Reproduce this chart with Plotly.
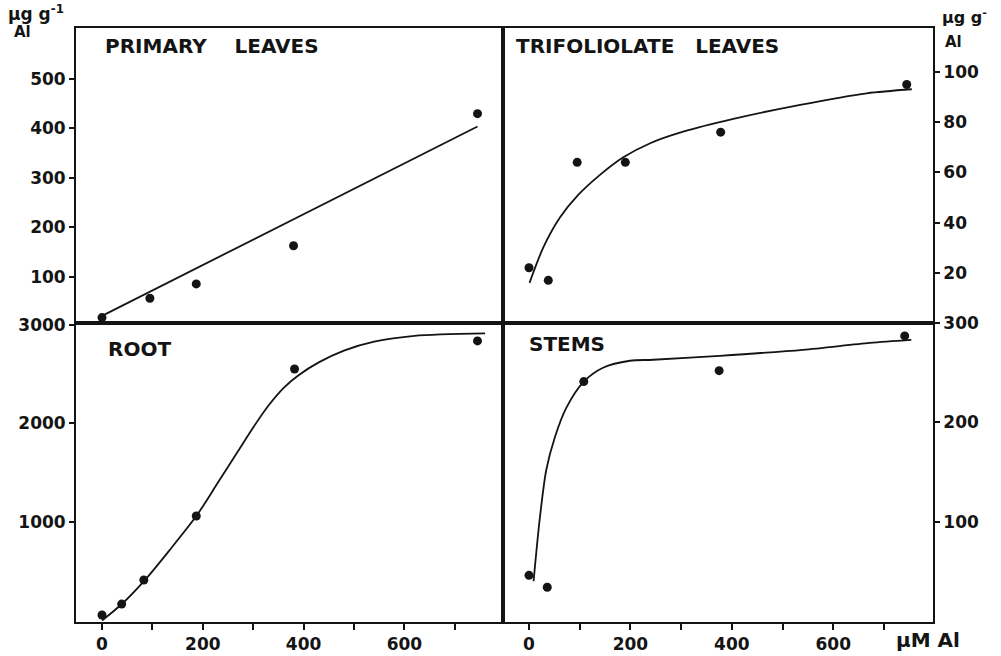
import plotly.graph_objects as go

# ---------------- data ----------------
dose_primary = [0, 95, 187, 380, 745]
al_primary = [18, 57, 86, 163, 430]
fit_primary_x = [3, 745]
fit_primary_y = [23, 404]

dose_trifol = [0, 38, 95, 190, 378, 745]
al_trifol = [22, 17, 64, 64, 76, 95]
fit_trifol_x = [1, 28, 61, 97, 140, 186, 239, 304, 403, 535, 666, 755]
fit_trifol_y = [16, 30, 42, 51, 59, 66, 71.6, 76.2, 81.3, 86.9, 91.5, 93.1]

dose_root = [0, 39, 83, 187, 382, 745]
al_root = [56, 167, 411, 1061, 2553, 2838]
fit_root_x = [0, 40, 85, 135, 187, 230, 270, 300, 330, 360, 390, 430, 480, 540, 620, 760]
fit_root_y = [0, 170, 410, 720, 1060, 1400, 1720, 1960, 2180, 2360, 2490, 2620, 2740, 2830, 2890, 2915]

dose_stems = [0, 36, 108, 375, 741]
al_stems = [46, 34, 241, 252, 287]
fit_stems_x = [9, 21, 34, 51, 74, 108, 146, 199, 245, 376, 540, 672, 754]
fit_stems_y = [40, 102, 152, 185, 215, 241, 255, 262, 263, 267, 273, 280, 283]

x_tickvals = [0, 100, 200, 300, 400, 500, 600, 700]
x_ticktext = ["0", "", "200", "", "400", "", "600", ""]
primary_ticks = [100, 200, 300, 400, 500]
trifol_ticks = [20, 40, 60, 80, 100]
root_ticks = [1000, 2000, 3000]
stems_ticks = [100, 200, 300]

NB = "\u00a0"
panel_titles = ["PRIMARY" + NB * 4 + "LEAVES", "TRIFOLIOLATE" + NB * 3 + "LEAVES", "ROOT", "STEMS"]

# ---------------- figure ----------------
W, H = 1001, 656
L, R, T, B = 76, 68, 28, 34
PW, PH = W - L - R, H - T - B
xs = (503 - L) / PW
ys = (622 - 323) / PH

INK = "#141414"
FONT = "DejaVu Sans"

fig = go.Figure()

def add_panel(xa, ya, xd, yd, fx, fy):
    fig.add_trace(go.Scatter(x=fx, y=fy, xaxis=xa, yaxis=ya, mode="lines",
                             line=dict(color=INK, width=1.8, shape="spline", smoothing=0.8),
                             showlegend=False, hoverinfo="skip"))
    fig.add_trace(go.Scatter(x=xd, y=yd, xaxis=xa, yaxis=ya, mode="markers",
                             marker=dict(color=INK, size=9),
                             showlegend=False))

add_panel("x", "y", dose_primary, al_primary, fit_primary_x, fit_primary_y)
add_panel("x2", "y2", dose_trifol, al_trifol, fit_trifol_x, fit_trifol_y)
add_panel("x3", "y3", dose_root, al_root, fit_root_x, fit_root_y)
add_panel("x4", "y4", dose_stems, al_stems, fit_stems_x, fit_stems_y)

def tf(size):
    return dict(family=FONT, size=size, color=INK, weight="bold")

common = dict(showline=True, linecolor=INK, linewidth=1.8, mirror=True, automargin=False,
              showgrid=False, zeroline=False, tickcolor=INK)

fig.update_layout(
    width=W, height=H,
    margin=dict(l=L, r=R, t=T, b=B),
    paper_bgcolor="white", plot_bgcolor="white",
    xaxis=dict(domain=[0, xs], range=[-51.6, 795.6], anchor="y",
               showticklabels=False, ticks="", **common),
    xaxis2=dict(domain=[xs, 1], range=[-51.3, 796.8], anchor="y2",
                showticklabels=False, ticks="", **common),
    xaxis3=dict(domain=[0, xs], range=[-51.6, 795.6], anchor="y3", tickfont=tf(17),
                tickvals=x_tickvals, ticktext=x_ticktext, ticks="outside", ticklen=6, tickwidth=2,
                **common),
    xaxis4=dict(domain=[xs, 1], range=[-51.3, 796.8], anchor="y4", tickfont=tf(17),
                tickvals=x_tickvals, ticktext=x_ticktext, ticks="outside", ticklen=6, tickwidth=2,
                **common),
    yaxis=dict(domain=[ys, 1], range=[7, 603], anchor="x", side="left", tickfont=tf(17),
               tickvals=primary_ticks, ticks="outside", ticklen=5, tickwidth=2, **common),
    yaxis2=dict(domain=[ys, 1], range=[0, 117.5], anchor="x2", side="right", tickfont=tf(17),
                tickvals=trifol_ticks, ticks="outside", ticklen=5, tickwidth=2, **common),
    yaxis3=dict(domain=[0, ys], range=[-15, 3020], anchor="x3", side="left", tickfont=tf(17),
                tickvals=root_ticks, ticks="outside", ticklen=5, tickwidth=2, **common),
    yaxis4=dict(domain=[0, ys], range=[-1, 300], anchor="x4", side="right", tickfont=tf(17),
                tickvals=stems_ticks, ticks="outside", ticklen=5, tickwidth=2, **common),
)

def px2paper(px, py):
    return (px - L) / PW, (622 - py) / PH

title_pos = [(103, 46), (514, 46), (106, 349), (527, 344)]
for txt, (px, py) in zip(panel_titles, title_pos):
    ax, ay = px2paper(px, py)
    fig.add_annotation(x=ax, y=ay, xref="paper", yref="paper", text=txt, showarrow=False,
                       xanchor="left", yanchor="middle", font=tf(20))

unit_labels = [
    ("\u00b5g g<sup>-1</sup>", 6, 13, 17),
    ("Al", 12, 32, 15),
    ("\u00b5g g<sup>-</sup>", 940, 17, 16),
    ("Al", 943, 42, 15),
    ("\u00b5M Al", 894, 640, 20),
]
for txt, px, py, fs in unit_labels:
    ax, ay = px2paper(px, py)
    fig.add_annotation(x=ax, y=ay, xref="paper", yref="paper", text=txt, showarrow=False,
                       xanchor="left", yanchor="middle", font=tf(fs))

fig.write_html("out.html", config={"displayModeBar": False},
               post_script="document.body.style.margin='0';document.body.style.overflow='hidden';")
